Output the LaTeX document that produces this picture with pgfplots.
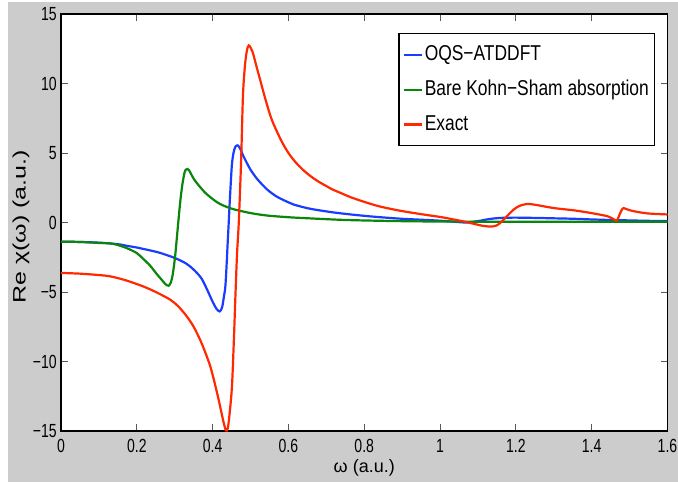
\documentclass[border=0pt]{standalone}
\usepackage{graphicx}
\usepackage{fontspec}
\setmainfont{Liberation Sans}
\newfontfamily\tickfont{Liberation Sans}[FakeStretch=0.74]
\newfontfamily\legfont{Liberation Sans}[FakeStretch=0.81]
\usepackage{pgfplots}
\pgfplotsset{compat=1.18}
\definecolor{figgray}{RGB}{204,204,204}
\definecolor{mblue}{RGB}{25,60,255}
\definecolor{mgreen}{RGB}{10,135,10}
\definecolor{mred}{RGB}{255,40,0}
\begin{document}
\begin{tikzpicture}
\fill[white] (-61pt,-52pt) rectangle (617pt,431pt);
\fill[figgray] (-53pt,-51pt) rectangle (617pt,429pt);
\begin{axis}[
  scale only axis,
  width=606.5pt, height=417pt,
  at={(0pt,0pt)}, anchor=south west,
  xmin=0, xmax=1.6, ymin=-15, ymax=15,
  axis background/.style={fill=white},
  axis line style={line width=1.6pt, black},
  xtick={0,0.2,0.4,0.6,0.8,1,1.2,1.4,1.6},
  xticklabels={0,0.2,0.4,0.6,0.8,1,1.2,1.4,1.6},
  ytick={-15,-10,-5,0,5,10,15},
  yticklabels={−15,−10,−5,0,5,10,15},
  tick align=inside,
  major tick length=7pt,
  tick style={line width=1pt, black!65},
  xticklabel style={font=\tickfont\fontsize{19pt}{19pt}\selectfont, inner sep=0pt, anchor=north, yshift=-8pt},
  yticklabel style={font=\tickfont\fontsize{19pt}{19pt}\selectfont, inner sep=0pt, anchor=east, xshift=-4pt},
  xlabel={ω (a.u.)},
  xlabel style={font=\fontsize{18pt}{18pt}\selectfont, at={(axis description cs:0.5,-0.0887)}, anchor=center},
  ylabel={\scalebox{1}[0.72]{\fontsize{25pt}{25pt}\selectfont Re χ(ω) (a.u.)}},
  ylabel style={at={(axis description cs:-0.066,0.489)}, anchor=center},
  legend cell align=left,
  legend image code/.code={\draw[#1] (0pt,0pt) -- (18pt,0pt);},
  legend style={at={(1,1)}, anchor=north east, xshift=-12.5pt, yshift=-19pt,
    draw=black, line width=1.2pt, fill=white,
    font=\legfont\fontsize{21.5pt}{21.5pt}\selectfont,
    inner xsep=4pt, inner ysep=11pt, row sep=15pt,
    nodes={inner xsep=1.5pt, inner ysep=0pt, text height=15.5pt, text depth=4.5pt}},
]
\addplot[mblue, line width=2.2pt, smooth, tension=0.5] coordinates {
(0,-1.38)(0.05,-1.40)(0.1,-1.45)(0.15,-1.56)(0.174,-1.68)(0.2,-1.80)(0.25,-2.10)(0.262,-2.19)
(0.3,-2.55)(0.33,-2.95)(0.35,-3.39)(0.37,-4.0)(0.385,-4.8)(0.40,-5.7)(0.41,-6.2)(0.4186,-6.40)
(0.425,-6.1)(0.43,-5.3)(0.4336,-4.6)(0.437,-3.0)(0.44,-1.3)(0.442,-0.27)(0.445,1.4)(0.448,2.9)
(0.451,4.2)(0.455,5.0)(0.46,5.45)(0.466,5.55)(0.472,5.35)(0.48,4.85)(0.49,4.3)(0.4997,3.81)
(0.51,3.4)(0.52,3.05)(0.544,2.37)(0.57,1.85)(0.6,1.45)(0.614,1.29)(0.65,1.03)(0.676,0.9)(0.72,0.72)
(0.764,0.58)(0.82,0.43)(0.892,0.28)(0.95,0.2)(1.0,0.13)(1.04,0.05)(1.07,0.0)(1.1,0.1)
(1.13,0.25)(1.16,0.33)(1.2,0.35)(1.25,0.33)(1.3,0.3)(1.35,0.27)(1.4,0.22)(1.45,0.18)
(1.5,0.15)(1.55,0.12)(1.6,0.1)};
\addlegendentry{OQS−ATDDFT}
\addplot[mgreen, line width=2.2pt, smooth, tension=0.5] coordinates {
(0,-1.38)(0.05,-1.40)(0.1,-1.47)(0.129,-1.50)(0.15,-1.62)(0.174,-1.85)(0.2,-2.2)(0.217,-2.62)
(0.235,-3.1)(0.253,-3.72)(0.265,-4.1)(0.275,-4.42)(0.2837,-4.55)(0.29,-4.3)(0.295,-3.7)
(0.301,-2.45)(0.306,-1.0)(0.310,0.2)(0.315,1.6)(0.32,2.7)(0.326,3.6)(0.33,3.81)(0.334,3.85)
(0.338,3.75)(0.343,3.5)(0.35,3.15)(0.358,2.85)(0.367,2.55)(0.38,2.15)(0.395,1.8)(0.412,1.45)
(0.43,1.2)(0.456,0.95)(0.5,0.68)(0.544,0.5)(0.6,0.38)(0.632,0.33)(0.7,0.24)(0.764,0.17)
(0.89,0.1)(1.0,0.07)(1.2,0.05)(1.4,0.06)(1.6,0.06)};
\addlegendentry{Bare Kohn−Sham absorption}
\addplot[mred, line width=2.2pt, smooth, tension=0.5] coordinates {
(0,-3.63)(0.05,-3.68)(0.1,-3.78)(0.129,-3.87)(0.17,-4.15)(0.217,-4.6)(0.25,-5.0)(0.288,-5.55)
(0.31,-6.05)(0.332,-6.76)(0.35,-7.5)(0.367,-8.44)(0.38,-9.3)(0.394,-10.36)(0.405,-11.5)
(0.416,-12.76)(0.425,-13.9)(0.43,-14.5)(0.4354,-14.97)(0.44,-14.8)(0.445,-13.7)(0.451,-11.8)
(0.456,-8.5)(0.4605,-5.0)(0.4645,-2.2)(0.469,0.0)(0.475,4.3)(0.480,9.1)(0.485,11.2)(0.49,12.3)
(0.4953,12.74)(0.505,12.3)(0.515,11.3)(0.525,10.3)(0.54,8.8)(0.556,7.4)(0.58,5.95)(0.6,5.0)
(0.62,4.3)(0.64,3.75)(0.66,3.3)(0.68,2.93)(0.7,2.62)(0.716,2.38)(0.74,2.1)(0.764,1.82)
(0.804,1.45)(0.84,1.16)(0.892,0.86)(0.95,0.6)(1.0,0.4)(1.03,0.25)(1.061,0.08)(1.09,-0.1)
(1.115,-0.25)(1.1365,-0.29)(1.15,-0.2)
(1.16,0.0)(1.167,0.19)(1.18,0.55)(1.195,0.95)(1.21,1.2)(1.229,1.33)(1.25,1.28)(1.30,1.04)
(1.36,0.85)(1.415,0.6)(1.445,0.42)(1.464,0.14)(1.468,0.2)(1.474,0.6)(1.48,0.95)(1.484,1.04)
(1.495,0.93)(1.513,0.8)(1.549,0.65)(1.6,0.58)};
\addlegendentry{Exact}
\end{axis}
\pgfresetboundingbox
\path[use as bounding box] (-61pt,-52pt) rectangle (617pt,431pt);
\end{tikzpicture}
\end{document}
